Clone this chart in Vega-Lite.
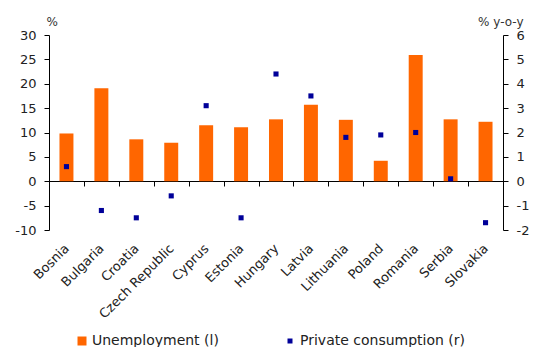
{
  "$schema": "https://vega.github.io/schema/vega-lite/v6.json",
  "width": 454,
  "height": 195,
  "autosize": "none",
  "padding": {"left": 49, "top": 35, "right": 31, "bottom": 117},
  "background": "white",
  "config": {
    "font": "DejaVu Sans",
    "view": {"stroke": null},
    "axis": {
      "labelFont": "DejaVu Sans",
      "labelFontSize": 13,
      "labelColor": "#222222",
      "domainColor": "#000000",
      "tickColor": "#000000",
      "grid": false,
      "titleFont": "DejaVu Sans",
      "titleFontSize": 12,
      "titleFontWeight": "normal",
      "titleColor": "#333333"
    }
  },
  "data": {
    "values": [
      {"country": "Bosnia", "unemployment": 9.8, "consumption": 0.6},
      {"country": "Bulgaria", "unemployment": 19.1, "consumption": -1.2},
      {"country": "Croatia", "unemployment": 8.6, "consumption": -1.5},
      {"country": "Czech Republic", "unemployment": 7.9, "consumption": -0.6},
      {"country": "Cyprus", "unemployment": 11.5, "consumption": 3.1},
      {"country": "Estonia", "unemployment": 11.1, "consumption": -1.5},
      {"country": "Hungary", "unemployment": 12.7, "consumption": 4.4},
      {"country": "Latvia", "unemployment": 15.7, "consumption": 3.5},
      {"country": "Lithuania", "unemployment": 12.6, "consumption": 1.8},
      {"country": "Poland", "unemployment": 4.2, "consumption": 1.9},
      {"country": "Romania", "unemployment": 25.9, "consumption": 2.0},
      {"country": "Serbia", "unemployment": 12.7, "consumption": 0.1},
      {"country": "Slovakia", "unemployment": 12.2, "consumption": -1.7}
    ]
  },
  "encoding": {
    "x": {
      "field": "country",
      "type": "nominal",
      "sort": null,
      "scale": {"paddingInner": 0, "paddingOuter": 0},
      "axis": {
        "title": null,
        "orient": "bottom",
        "offset": -49,
        "tickBand": "extent",
        "tickSize": 5,
        "labelAngle": -45,
        "labelAlign": "right",
        "labelBaseline": "middle",
        "labelPadding": 60
      }
    }
  },
  "layer": [
    {
      "mark": {"type": "bar", "width": {"band": 0.4}},
      "encoding": {
        "y": {
          "field": "unemployment",
          "type": "quantitative",
          "scale": {"domain": [-10, 30], "nice": false},
          "axis": {
            "title": "%",
            "orient": "left",
            "values": [-10, -5, 0, 5, 10, 15, 20, 25, 30],
            "labelExpr": "'' + datum.value",
            "tickSize": 5,
            "labelPadding": 8,
            "titleAngle": 0,
            "titleX": -3,
            "titleY": -10,
            "titleAlign": "left",
            "titleBaseline": "alphabetic"
          }
        },
        "color": {
          "datum": "Unemployment (l)",
          "scale": {
            "domain": ["Unemployment (l)", "Private consumption (r)"],
            "range": ["#ff6600", "#000099"]
          },
          "legend": {
            "orient": "none",
            "legendX": 26,
            "legendY": 299,
            "direction": "horizontal",
            "title": null,
            "symbolType": "square",
            "symbolSize": 81,
            "labelFontSize": 14,
            "labelColor": "#222222",
            "labelLimit": 400,
            "labelOffset": 3,
            "columnPadding": 64,
            "encode": {
              "symbols": {
                "update": {
                  "size": {"signal": "datum.value === 'Unemployment (l)' ? 81 : 25"}
                }
              }
            }
          }
        }
      }
    },
    {
      "mark": {"type": "point", "shape": "square", "filled": true, "size": 26, "opacity": 1},
      "encoding": {
        "y": {
          "field": "consumption",
          "type": "quantitative",
          "scale": {"domain": [-2, 6], "nice": false},
          "axis": {
            "title": "% y-o-y",
            "orient": "right",
            "values": [-2, -1, 0, 1, 2, 3, 4, 5, 6],
            "labelExpr": "'' + datum.value",
            "tickSize": 5,
            "labelPadding": 8,
            "titleAngle": 0,
            "titleX": 20,
            "titleY": -10,
            "titleAlign": "right",
            "titleBaseline": "alphabetic"
          }
        },
        "color": {"datum": "Private consumption (r)"}
      }
    }
  ],
  "resolve": {"scale": {"y": "independent"}}
}
